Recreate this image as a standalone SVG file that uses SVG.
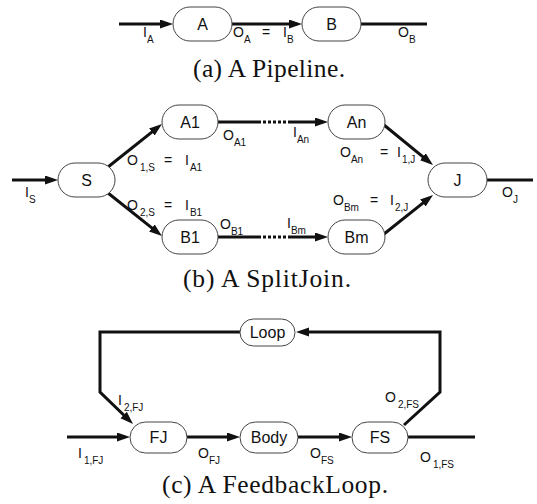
<svg xmlns="http://www.w3.org/2000/svg" width="537" height="504" viewBox="0 0 537 504">
<defs>
<marker id="arr" markerUnits="userSpaceOnUse" markerWidth="14" markerHeight="10" refX="8" refY="4.5" orient="auto">
<path d="M0,0 L13,4.5 L0,9 Z" fill="#111"/>
</marker>
<style>
.n{fill:#fff;stroke:#444;stroke-width:1}
.e{fill:none;stroke:#111;stroke-width:3;stroke-linejoin:miter}
.d{fill:none;stroke:#111;stroke-width:3;stroke-dasharray:3 2}
.nl{font-family:"Liberation Sans",Arial,sans-serif;font-size:16px;fill:#111;text-anchor:middle}
.l{font-family:"Liberation Sans",Arial,sans-serif;font-size:14px;fill:#111}
.s{font-size:10px}
.cap{font-family:"Liberation Serif","Times New Roman",serif;font-size:25.5px;fill:#111;text-anchor:middle}
</style>
</defs>
<rect width="537" height="504" fill="#fff"/>

<g id="connectors">
<!-- (a) -->
<line class="e" x1="119" y1="24" x2="168" y2="24" marker-end="url(#arr)"/>
<line class="e" x1="232" y1="24" x2="297" y2="24" marker-end="url(#arr)"/>
<line class="e" x1="361" y1="24" x2="427" y2="24"/>
<!-- (b) -->
<line class="e" x1="12" y1="180" x2="53" y2="180" marker-end="url(#arr)"/>
<line class="e" x1="108" y1="167" x2="158.1" y2="127.1" marker-end="url(#arr)"/>
<line class="e" x1="108" y1="193" x2="158.1" y2="232.9" marker-end="url(#arr)"/>
<line class="e" x1="218" y1="122" x2="258" y2="122"/>
<line class="d" x1="258" y1="122" x2="290" y2="122"/>
<line class="e" x1="290" y1="122" x2="323" y2="122" marker-end="url(#arr)"/>
<line class="e" x1="218" y1="237" x2="258" y2="237"/>
<line class="d" x1="258" y1="237" x2="290" y2="237"/>
<line class="e" x1="290" y1="237" x2="323" y2="237" marker-end="url(#arr)"/>
<line class="e" x1="384" y1="125" x2="429.1" y2="161.8" marker-end="url(#arr)"/>
<line class="e" x1="384" y1="234" x2="429.1" y2="198.1" marker-end="url(#arr)"/>
<line class="e" x1="487" y1="180" x2="533" y2="180"/>
<!-- (c) -->
<line class="e" x1="67" y1="437" x2="125" y2="437" marker-end="url(#arr)"/>
<line class="e" x1="187" y1="437" x2="235" y2="437" marker-end="url(#arr)"/>
<line class="e" x1="298" y1="437" x2="347" y2="437" marker-end="url(#arr)"/>
<line class="e" x1="408" y1="437" x2="475" y2="437"/>
<polyline class="e" points="404,425 440,392 440,332 301,332" marker-end="url(#arr)"/>
<polyline class="e" points="240,332 100,332 100,392 129.4,420.5" marker-end="url(#arr)"/>
</g>

<g id="A"><rect class="n" x="173" y="7" width="59" height="34" rx="17"/><text class="nl" x="202.5" y="30">A</text></g>
<g id="B"><rect class="n" x="302" y="7" width="59" height="34" rx="17"/><text class="nl" x="331.5" y="30">B</text></g>

<g id="S"><rect class="n" x="58" y="163" width="57" height="34" rx="17"/><text class="nl" x="86.5" y="186">S</text></g>
<g id="A1"><rect class="n" x="162" y="105" width="56" height="34" rx="17"/><text class="nl" x="190" y="128">A1</text></g>
<g id="An"><rect class="n" x="328" y="105" width="57" height="34" rx="17"/><text class="nl" x="356.5" y="128">An</text></g>
<g id="B1"><rect class="n" x="162" y="220" width="56" height="34" rx="17"/><text class="nl" x="190" y="243">B1</text></g>
<g id="Bm"><rect class="n" x="328" y="220" width="57" height="34" rx="17"/><text class="nl" x="356.5" y="243">Bm</text></g>
<g id="J"><rect class="n" x="428" y="163" width="59" height="34" rx="17"/><text class="nl" x="457.5" y="186">J</text></g>

<g id="Loop"><rect class="n" x="240" y="319" width="55" height="27" rx="13.5"/><text class="nl" x="267.5" y="338">Loop</text></g>
<g id="FJ"><rect class="n" x="130" y="422" width="57" height="31" rx="15.5"/><text class="nl" x="158.5" y="443">FJ</text></g>
<g id="Body"><rect class="n" x="240" y="422" width="58" height="31" rx="15.5"/><text class="nl" x="269" y="443">Body</text></g>
<g id="FS"><rect class="n" x="352" y="422" width="56" height="31" rx="15.5"/><text class="nl" x="380" y="443">FS</text></g>

<g id="labels">
<!-- (a) -->
<text class="l" x="143" y="37">I<tspan class="s" dy="6">A</tspan></text>
<text class="l" x="233" y="37">O<tspan class="s" dy="6">A</tspan></text>
<text class="l" x="262" y="37">=</text>
<text class="l" x="283" y="37">I<tspan class="s" dy="6">B</tspan></text>
<text class="l" x="398" y="37">O<tspan class="s" dy="6">B</tspan></text>
<!-- (b) -->
<text class="l" x="25" y="197">I<tspan class="s" dy="6">S</tspan></text>
<text class="l" x="223" y="140">O<tspan class="s" dy="6">A1</tspan></text>
<text class="l" x="293" y="137">I<tspan class="s" dy="6">An</tspan></text>
<text class="l" x="127" y="165">O<tspan class="s" dx="2" dy="6">1,S</tspan></text>
<text class="l" x="164" y="165">=</text>
<text class="l" x="185" y="165">I<tspan class="s" dx="1" dy="6">A1</tspan></text>
<text class="l" x="127" y="210">O<tspan class="s" dx="2" dy="6">2,S</tspan></text>
<text class="l" x="164" y="210">=</text>
<text class="l" x="185" y="210">I<tspan class="s" dx="1" dy="6">B1</tspan></text>
<text class="l" x="220" y="229">O<tspan class="s" dy="6">B1</tspan></text>
<text class="l" x="287" y="228">I<tspan class="s" dy="6">Bm</tspan></text>
<text class="l" x="340" y="157">O<tspan class="s" dy="6">An</tspan></text>
<text class="l" x="380" y="157">=</text>
<text class="l" x="397" y="157">I<tspan class="s" dx="1" dy="6">1,J</tspan></text>
<text class="l" x="333" y="205">O<tspan class="s" dy="6">Bm</tspan></text>
<text class="l" x="370" y="205">=</text>
<text class="l" x="390" y="205">I<tspan class="s" dx="1" dy="6">2,J</tspan></text>
<text class="l" x="502" y="197">O<tspan class="s" dy="6">J</tspan></text>
<!-- (c) -->
<text class="l" x="118" y="405">I<tspan class="s" dx="2" dy="6">2,FJ</tspan></text>
<text class="l" x="78" y="458">I<tspan class="s" dx="2" dy="6">1,FJ</tspan></text>
<text class="l" x="198" y="458">O<tspan class="s" dy="6">FJ</tspan></text>
<text class="l" x="310" y="458">O<tspan class="s" dy="6">FS</tspan></text>
<text class="l" x="385" y="402">O<tspan class="s" dx="2" dy="6">2,FS</tspan></text>
<text class="l" x="420" y="462">O<tspan class="s" dx="2" dy="6">1,FS</tspan></text>
</g>

<g id="captions">
<text class="cap" x="269" y="77" textLength="152" lengthAdjust="spacing">(a) A Pipeline.</text>
<text class="cap" x="267" y="287" textLength="168" lengthAdjust="spacing">(b) A SplitJoin.</text>
<text class="cap" x="275" y="493" textLength="226" lengthAdjust="spacing">(c) A FeedbackLoop.</text>
</g>
</svg>
